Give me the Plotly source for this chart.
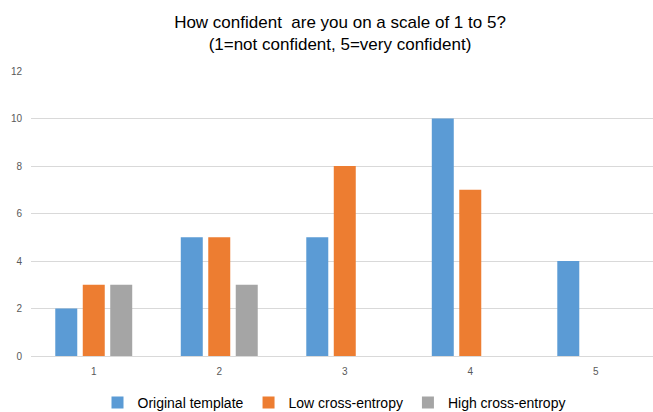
import plotly.graph_objects as go

categories = ["1", "2", "3", "4", "5"]
original_template = [2, 5, 5, 10, 4]
low_cross_entropy = [3, 5, 8, 7, 0]
high_cross_entropy = [3, 3, 0, 0, 0]
y_ticks = [0, 2, 4, 6, 8, 10, 12]

series = [
    ("Original template", original_template, "#5B9BD5"),
    ("Low cross-entropy", low_cross_entropy, "#ED7D31"),
    ("High cross-entropy", high_cross_entropy, "#A5A5A5"),
]

fig = go.Figure()
for name, vals, col in series:
    fig.add_trace(go.Bar(
        x=categories, y=vals, name=name,
        marker=dict(color=col, line=dict(width=0)),
    ))

font_family = "Liberation Sans, Arial, sans-serif"
fig.update_layout(
    width=653, height=412,
    margin=dict(l=31, r=0, t=71, b=56, autoexpand=False),
    paper_bgcolor="white", plot_bgcolor="white",
    barmode="group", bargap=0.343, bargroupgap=0.2,
    font=dict(family=font_family, color="#595959"),
    title=dict(
        text="How confident  are you on a scale of 1 to 5?<br>(1=not confident, 5=very confident)",
        x=340 / 653, xref="container", xanchor="center",
        y=1 - 28 / 412, yref="container", yanchor="middle",
        font=dict(size=17, color="#000000", family=font_family),
    ),
    showlegend=True,
    legend=dict(
        orientation="h", x=334 / 653, xref="container", xanchor="center",
        y=1 - 403 / 412, yref="container", yanchor="middle",
        font=dict(size=14, color="#000000", family=font_family),
        traceorder="normal",
    ),
    xaxis=dict(
        type="category", range=[-0.5, 4.456],
        showgrid=False, showline=False, ticks="",
        tickfont=dict(size=10, color="#595959"),
        ticklabelstandoff=8,
        automargin=False,
    ),
    yaxis=dict(
        range=[0, 12], tickvals=y_ticks,
        showgrid=True, gridcolor="#D9D9D9", gridwidth=1,
        zeroline=True, zerolinecolor="#D9D9D9", zerolinewidth=1,
        showline=False, ticks="",
        tickfont=dict(size=10, color="#595959"),
        ticklabelstandoff=8,
        automargin=False,
    ),
)

fig.write_html(
    "out.html",
    config={"displayModeBar": False},
    post_script="document.body.style.margin='0';",
)
